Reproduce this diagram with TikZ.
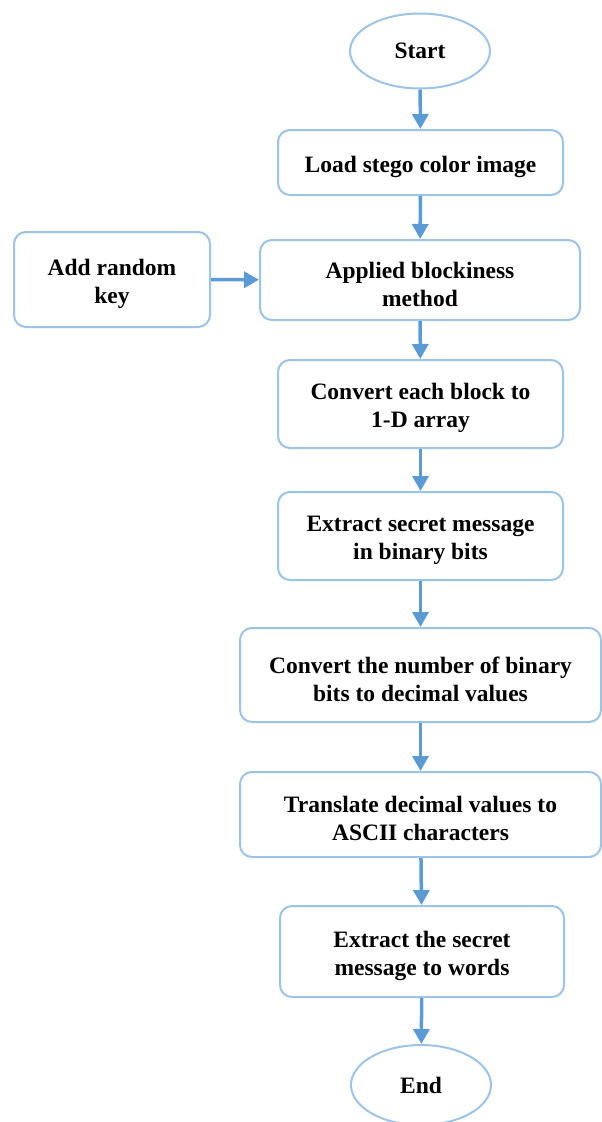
\documentclass[tikz,border=0pt]{standalone}
\usepackage{fontspec}
\setmainfont{Liberation Serif}
\usetikzlibrary{shapes.geometric,arrows.meta}
\definecolor{boxline}{RGB}{157,195,230}
\definecolor{arrowc}{RGB}{91,155,213}
\tikzset{
  procbox/.style={draw=boxline, line width=2pt, rounded corners=12pt, fill=white, inner sep=0pt},
  boxtext/.style={font=\fontsize{23.5}{28}\selectfont\bfseries, align=center, inner sep=0pt, yshift=-4pt},
  term/.style={draw=boxline, line width=2pt, ellipse, fill=white,
    font=\fontsize{23.5}{28}\selectfont\bfseries, inner sep=0pt},
  flow/.style={draw=arrowc, line width=3.5pt, -{Triangle[width=16pt,length=15pt]}}
}
\begin{document}
\begin{tikzpicture}[x=1pt,y=-1pt]
\useasboundingbox (0,0) rectangle (602,1122);
\clip (0,0) rectangle (602,1122);
\node[term, minimum width=140pt, minimum height=75pt] (start) at (420,51) {Start};
\node[procbox, minimum width=285pt, minimum height=65pt] (load) at (420.5,162.5) {};
\node[boxtext] (loadt) at (load.center) {Load stego color image};
\node[procbox, minimum width=320pt, minimum height=80pt] (block) at (420,280) {};
\node[boxtext] (blockt) at (block.center) {Applied blockiness\\method};
\node[procbox, minimum width=196pt, minimum height=95pt] (key) at (112,279.5) {};
\node[boxtext] (keyt) at (key.center) {Add random\\key};
\node[procbox, minimum width=285pt, minimum height=88pt] (conv) at (420.5,404) {};
\node[boxtext] (convt) at (conv.center) {Convert each block to\\1-D array};
\node[procbox, minimum width=285pt, minimum height=88pt] (extract) at (420.5,536) {};
\node[boxtext] (extractt) at (extract.center) {Extract secret message\\in binary bits};
\node[procbox, minimum width=361pt, minimum height=94pt] (dec) at (420.5,675) {};
\node[boxtext] (dect) at (dec.center) {Convert the number of binary\\bits to decimal values};
\node[procbox, minimum width=361pt, minimum height=85pt] (ascii) at (420.5,814.5) {};
\node[boxtext] (asciit) at (ascii.center) {Translate decimal values to\\ASCII characters};
\node[procbox, minimum width=284pt, minimum height=91pt] (words) at (422,951.5) {};
\node[boxtext] (wordst) at (words.center) {Extract the secret\\message to words};
\node[term, minimum width=140pt, minimum height=80pt] (end) at (421,1085) {End};
\draw[flow] (start) -- (load);
\draw[flow] (load) -- (block);
\draw[flow] (key) -- (block);
\draw[flow] (block) -- (conv);
\draw[flow] (conv) -- (extract);
\draw[flow] (extract) -- (dec);
\draw[flow] (dec) -- (ascii);
\draw[flow] (ascii) -- (words);
\draw[flow] (words) -- (end);
\end{tikzpicture}
\end{document}
